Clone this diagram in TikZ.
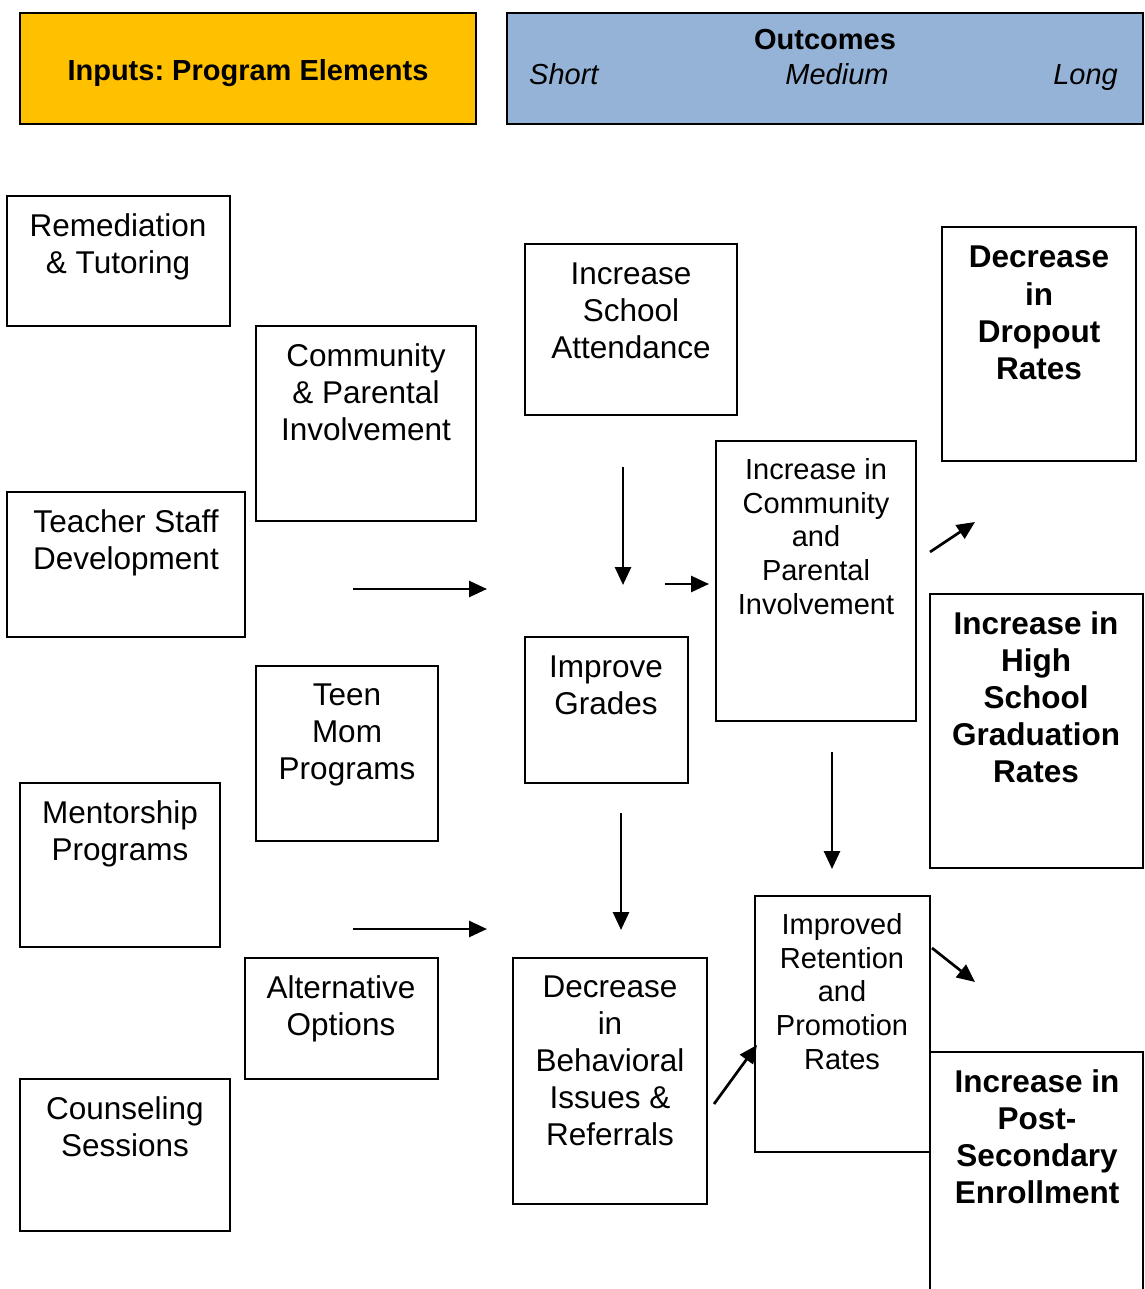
\documentclass[tikz,border=0pt]{standalone}
\usepackage{fontspec}
\setmainfont{Liberation Sans}
\usetikzlibrary{arrows.meta,fit}
\definecolor{inputc}{HTML}{FFC000}
\definecolor{outc}{HTML}{95B3D7}
\frenchspacing
\begin{document}
\begin{tikzpicture}[x=1pt,y=-1pt,
  box/.style={draw=black,line width=1.8pt,inner sep=0pt,outer sep=0pt},
  txt/.style={anchor=north,align=center,inner sep=0pt,font=\fontsize{31.5}{37}\selectfont},
  txts/.style={anchor=north,align=center,inner sep=0pt,font=\fontsize{29}{33.8}\selectfont},
  txtb/.style={anchor=north,align=center,inner sep=0pt,font=\fontsize{31.5}{37.2}\selectfont\bfseries},
  hdr/.style={inner sep=0pt,font=\fontsize{29}{34}\selectfont},
  arr/.style={line width=2.7pt,-{Triangle[length=18pt,width=16pt]}}]
\useasboundingbox (0,0) rectangle (1144,1289);
% headers
\node[box,fill=inputc,fit={(20,13)(476,124)}] (inputs) {};
\node[hdr,anchor=base,font=\fontsize{29}{34}\selectfont\bfseries] (inputsT) at (248,80.5) {Inputs: Program Elements};
\node[box,fill=outc,fit={(507,13)(1143,124)}] (outcomes) {};
\node[hdr,anchor=base,font=\fontsize{29}{34}\selectfont\bfseries] (outT) at (825,49.5) {Outcomes};
\node[hdr,anchor=base west,font=\fontsize{29}{34}\selectfont\itshape] (shortT) at (529,84.5) {Short};
\node[hdr,anchor=base,font=\fontsize{29}{34}\selectfont\itshape] (medT) at (837,84.5) {Medium};
\node[hdr,anchor=base east,font=\fontsize{29}{34}\selectfont\itshape] (longT) at (1118,84.5) {Long};
% inputs
\node[box,fit={(7,196)(230,326)}] (rem) {};
\node[txt] (remT) at (118,213) {Remediation\\\& Tutoring};
\node[box,fit={(256,326)(476,521)}] (comm) {};
\node[txt] (commT) at (366,343) {Community\\\& Parental\\Involvement};
\node[box,fit={(7,492)(245,637)}] (teach) {};
\node[txt] (teachT) at (126,509) {Teacher Staff\\Development};
\node[box,fit={(256,666)(438,841)}] (teen) {};
\node[txt] (teenT) at (347,684) {Teen\\Mom\\Programs};
\node[box,fit={(20,783)(220,947)}] (ment) {};
\node[txt] (mentT) at (120,800) {Mentorship\\Programs};
\node[box,fit={(245,958)(438,1079)}] (alt) {};
\node[txt] (altT) at (341,975) {Alternative\\Options};
\node[box,fit={(20,1079)(230,1231)}] (couns) {};
\node[txt] (counsT) at (125,1096) {Counseling\\Sessions};
% short outcomes
\node[box,fit={(525,244)(737,415)}] (att) {};
\node[txt] (attT) at (631,262.5) {Increase\\School\\Attendance};
\node[box,fit={(525,637)(688,783)}] (grades) {};
\node[txt] (gradesT) at (606,655.5) {Improve\\Grades};
\node[box,fit={(513,958)(707,1204)}] (behav) {};
\node[txt] (behavT) at (610,976) {Decrease\\in\\Behavioral\\Issues \&\\Referrals};
% medium outcomes
\node[box,fit={(716,441)(916,721)}] (cpi) {};
\node[txts] (cpiT) at (816,458) {Increase in\\Community\\and\\Parental\\Involvement};
\node[box,fit={(755,896)(930,1152)}] (ret) {};
\node[txts] (retT) at (842,913) {Improved\\Retention\\and\\Promotion\\Rates};
% long outcomes
\node[box,fit={(942,227)(1136,461)}] (drop) {};
\node[txtb] (dropT) at (1039,246) {Decrease\\in\\Dropout\\Rates};
\node[box,fit={(930,594)(1143,868)}] (grad) {};
\node[txtb] (gradT) at (1036,611) {Increase in\\High\\School\\Graduation\\Rates};
\node[box,fit={(930,1052)(1143,1310)}] (post) {};
\node[txtb] (postT) at (1037,1069) {Increase in\\Post-\\Secondary\\Enrollment};
% arrows
\coordinate (a1s) at (353,589); \coordinate (a1e) at (487,589);
\coordinate (a2s) at (623,467); \coordinate (a2e) at (623,585);
\coordinate (a3s) at (665,584); \coordinate (a3e) at (709,584);
\coordinate (a4s) at (930,552); \coordinate (a4e) at (975,522);
\coordinate (a5s) at (832,752); \coordinate (a5e) at (832,869);
\coordinate (a6s) at (621,813); \coordinate (a6e) at (621,930);
\coordinate (a7s) at (353,929); \coordinate (a7e) at (487,929);
\coordinate (a8s) at (932,948); \coordinate (a8e) at (975,982);
\coordinate (a9s) at (714,1104); \coordinate (a9e) at (757,1045);
\foreach \i in {1,...,9}{\draw[arr] (a\i s) -- (a\i e);}
\end{tikzpicture}
\end{document}
